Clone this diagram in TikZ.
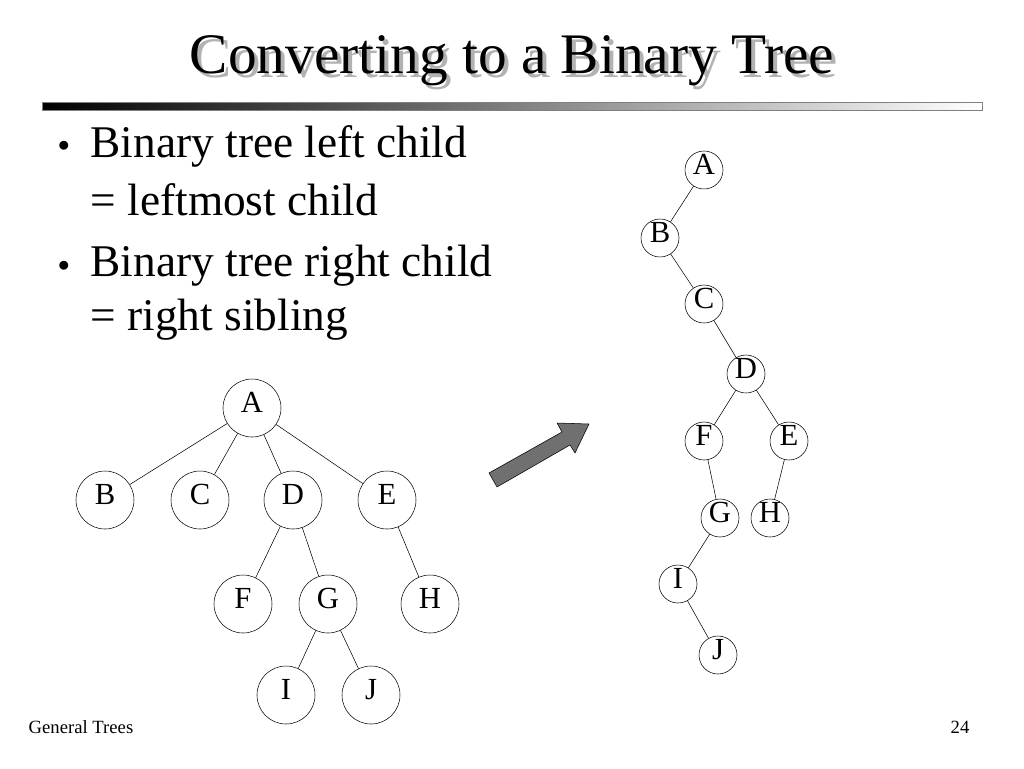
\documentclass[tikz,border=0pt]{standalone}
\usepackage{fontspec}
\setmainfont{Liberation Serif}
\begin{document}
\begin{tikzpicture}[x=0.75pt,y=-0.75pt,
  big/.style={circle,draw,fill=white,minimum size=58*0.75pt,inner sep=0pt,text height=0.68em,text depth=0pt,font=\fontsize{23}{25}\selectfont},
  sm/.style={circle,draw,fill=white,minimum size=38*0.75pt,inner sep=0pt,text height=0.68em,text depth=0pt,font=\fontsize{23}{25}\selectfont},
  bul/.style={anchor=west,font=\fontsize{34}{38}\selectfont}]
\useasboundingbox (0,0) rectangle (1024,768);
\fill[white] (0,0) rectangle (1024,768);
% title
\node[text=gray!60,font=\fontsize{43}{48}\selectfont] at (516,65) {Converting to a Binary Tree};
\node (title) [font=\fontsize{43}{48}\selectfont] at (512,61) {Converting to a Binary Tree};
\shade[left color=black,right color=white,shading angle=90] (42,102) rectangle (982,110);
\draw[gray] (42,102) rectangle (982,110);
% bullets
\node[font=\fontsize{17}{17}\selectfont] (b1) at (64,146) {$\bullet$};
\node[bul] (t1) at (86,146) {Binary tree left child};
\node[bul] (t1b) at (86,200) {= leftmost child};
\node[font=\fontsize{17}{17}\selectfont] (b2) at (64,266) {$\bullet$};
\node[bul] (t2) at (86,266) {Binary tree right child};
\node[bul] (t2b) at (86,320) {= right sibling};
% left tree
\node[big] (A) at (252,408) {A};
\node[big] (B) at (105,500) {B};
\node[big] (C) at (200,500) {C};
\node[big] (D) at (293,500) {D};
\node[big] (E) at (387,500) {E};
\node[big] (F) at (243,604) {F};
\node[big] (G) at (328,604) {G};
\node[big] (H) at (430,604) {H};
\node[big] (I) at (286,695) {I};
\node[big] (J) at (371,695) {J};
\foreach \a/\b in {A/B,A/C,A/D,A/E,D/F,D/G,E/H,G/I,G/J} \draw (\a) -- (\b);
% right tree
\node[sm] (rA) at (704,170) {A};
\node[sm] (rB) at (660,238) {B};
\node[sm] (rC) at (704,304) {C};
\node[sm] (rD) at (746,374) {D};
\node[sm] (rF) at (704,441) {F};
\node[sm] (rE) at (789,441) {E};
\node[sm] (rG) at (720,518) {G};
\node[sm] (rH) at (770,518) {H};
\node[sm] (rI) at (678,584) {I};
\node[sm] (rJ) at (718,655) {J};
\foreach \a/\b in {rA/rB,rB/rC,rC/rD,rD/rF,rD/rE,rF/rG,rE/rH,rG/rI,rI/rJ} \draw (\a) -- (\b);
% arrow
\draw[fill=gray!75!black!90,line join=round] (489,473) -- (562,432) -- (557,423) -- (589,424) -- (575,453) -- (570,445) -- (497,487) -- cycle;
% footer
\node[anchor=west,font=\fontsize{14}{16}\selectfont] (ft) at (24,727) {General Trees};
\node[font=\fontsize{14}{16}\selectfont] (pg) at (960,727) {24};
\end{tikzpicture}
\end{document}
